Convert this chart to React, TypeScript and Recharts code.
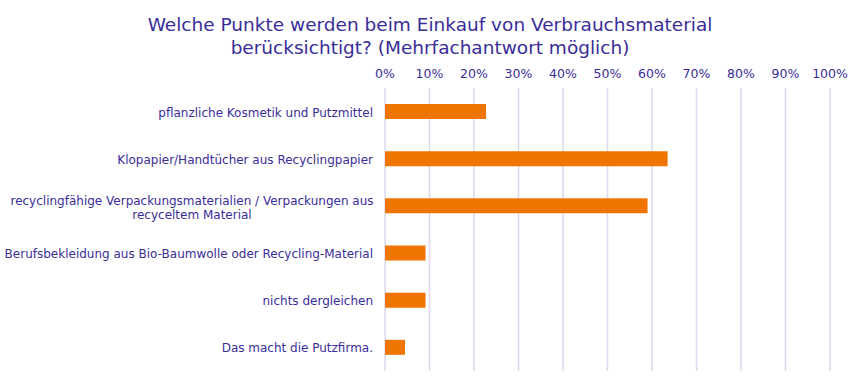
import React from "react";
import { BarChart, Bar, XAxis, YAxis, CartesianGrid } from "recharts";

const categories = [
  "pflanzliche Kosmetik und Putzmittel",
  "Klopapier/Handtücher aus Recyclingpapier",
  "recyclingfähige Verpackungsmaterialien / Verpackungen aus\nrecyceltem Material",
  "Berufsbekleidung aus Bio-Baumwolle oder Recycling-Material",
  "nichts dergleichen",
  "Das macht die Putzfirma.",
];
const shares = [22.7, 63.5, 59.0, 9.1, 9.1, 4.5];
const xTicks = [0, 10, 20, 30, 40, 50, 60, 70, 80, 90, 100];

const data = categories.map((name, i) => ({ name, value: shares[i] }));

const TEXT = "#3a2d98";
const FONT = "'DejaVu Sans', Verdana, sans-serif";

function CategoryTick({ y, payload }: any) {
  const lines = String(payload.value).split("\n");
  if (lines.length === 1) {
    return (
      <text x={373} y={y} dy={5} textAnchor="end" fill={TEXT} fontSize={12} fontFamily={FONT}>
        {lines[0]}
      </text>
    );
  }
  const cx = 192;
  return (
    <text x={cx} y={y} textAnchor="middle" fill={TEXT} fontSize={12} fontFamily={FONT}>
      {lines.map((l, i) => (
        <tspan key={i} x={cx} dy={i === 0 ? -1 : 14}>
          {l}
        </tspan>
      ))}
    </text>
  );
}

export default function App() {
  return (
    <div style={{ position: "absolute", left: 0, top: 0, width: 865, height: 384, background: "#fff" }}>
      <div
        style={{
          position: "absolute",
          left: 0,
          top: 13,
          width: 860,
          textAlign: "center",
          fontFamily: FONT,
          fontSize: 18.5,
          lineHeight: "23px",
          color: TEXT,
        }}
      >
        Welche Punkte werden beim Einkauf von Verbrauchsmaterial
        <br />
        berücksichtigt? (Mehrfachantwort möglich)
      </div>
      <BarChart
        width={865}
        height={384}
        data={data}
        layout="vertical"
        margin={{ top: 60, right: 35, bottom: 13, left: 0 }}
      >
        <CartesianGrid horizontal={false} stroke="#dcd8f2" strokeWidth={1.5} />
        <XAxis
          type="number"
          orientation="top"
          domain={[0, 100]}
          ticks={xTicks}
          tickFormatter={(v) => `${v}%`}
          axisLine={false}
          tickLine={false}
          tickMargin={4}
          height={28}
          tick={{ fontSize: 12.5, fill: TEXT, fontFamily: FONT }}
        />
        <YAxis
          type="category"
          dataKey="name"
          width={385}
          axisLine={false}
          tickLine={false}
          tick={<CategoryTick />}
          interval={0}
        />
        <Bar dataKey="value" fill="#f07400" barSize={15} isAnimationActive={false} />
      </BarChart>
    </div>
  );
}
